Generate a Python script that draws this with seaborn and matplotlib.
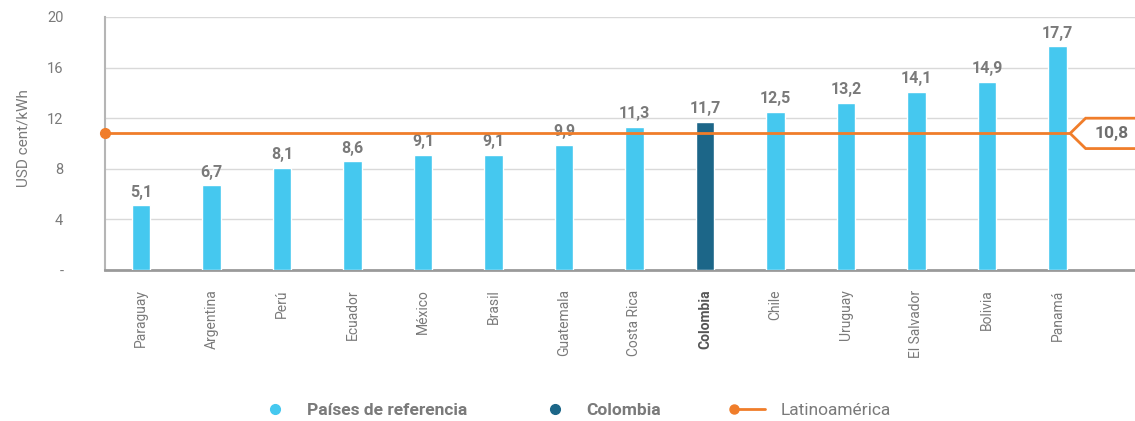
import matplotlib
matplotlib.use("Agg")
import matplotlib.pyplot as plt
import seaborn as sns
import pandas as pd
from matplotlib.patches import Polygon
from matplotlib.lines import Line2D
from matplotlib.legend_handler import HandlerBase

countries = ["Paraguay", "Argentina", "Perú", "Ecuador", "México", "Brasil", "Guatemala",
             "Costa Rica", "Colombia", "Chile", "Uruguay", "El Salvador", "Bolivia", "Panamá"]
values = [5.1, 6.7, 8.1, 8.6, 9.1, 9.1, 9.9, 11.3, 11.7, 12.5, 13.2, 14.1, 14.9, 17.7]
latam_avg = 10.8
yticks = [0, 4, 8, 12, 16, 20]
ytick_labels = ["-", "4", "8", "12", "16", "20"]
legend_labels = ["Países de referencia", "Colombia", "Latinoamérica"]

LIGHT = "#45C8EF"
DARK = "#1C6688"
ORANGE = "#F07D2A"
TEXT = "#7a7a7a"

sns.set_theme(style="white")
plt.rcParams["font.family"] = ["Roboto", "DejaVu Sans"]

df = pd.DataFrame({"country": countries, "value": values})
palette = {c: (DARK if c == "Colombia" else LIGHT) for c in countries}

fig = plt.figure(figsize=(11.35, 4.21), dpi=100)
ax = fig.add_axes([105 / 1135, 151 / 421, 1 - 105 / 1135, 253 / 421])

sns.barplot(data=df, x="country", y="value", hue="country", palette=palette,
            legend=False, width=0.26, saturation=1, ax=ax, zorder=3)

for cont in ax.containers:
    ax.bar_label(cont, labels=[f"{v:.1f}".replace(".", ",") for v in cont.datavalues],
                 padding=4, color=TEXT, fontsize=11.5, fontweight="bold")

ax.set_xlim(-0.51, 14.1)
ax.set_ylim(0, 20)
ax.set_yticks(yticks)
ax.set_yticklabels(ytick_labels)
ax.yaxis.grid(True, color="#d9d9d9", linewidth=1, zorder=0)
ax.set_axisbelow(True)
ax.tick_params(axis="y", length=0, pad=30, labelsize=10.5, labelcolor=TEXT)
ax.tick_params(axis="x", length=0, pad=14, labelsize=10, labelcolor=TEXT)
for lbl in ax.get_xticklabels():
    lbl.set_rotation(90)
    lbl.set_va("top")
    if lbl.get_text() == "Colombia":
        lbl.set_fontweight("bold")
        lbl.set_color("#555555")
ax.set_xlabel("")
ax.set_ylabel("USD cent/kWh", color=TEXT, fontsize=11, labelpad=6)
ax.yaxis.set_label_coords(-0.072, 0.52)

for s in ["top", "right"]:
    ax.spines[s].set_visible(False)
ax.spines["left"].set_color("#b5b5b5")
ax.spines["left"].set_linewidth(1.5)
ax.spines["bottom"].set_color("#9a9a9a")
ax.spines["bottom"].set_linewidth(2)

# Latin America average line
x_tip = 13.18
ax.plot([-0.51, x_tip], [latam_avg, latam_avg], color=ORANGE, linewidth=2, zorder=4,
        solid_capstyle="butt", clip_on=False)
ax.plot([-0.51], [latam_avg], marker="o", color=ORANGE, markersize=7, zorder=5, clip_on=False)

# pentagon label box
poly = Polygon([[x_tip, latam_avg], [x_tip + 0.22, latam_avg + 1.2], [14.3, latam_avg + 1.2],
                [14.3, latam_avg - 1.2], [x_tip + 0.22, latam_avg - 1.2]],
               closed=True, facecolor="white", edgecolor=ORANGE, linewidth=2,
               zorder=6, clip_on=False)
ax.add_patch(poly)
ax.text(13.52, latam_avg, f"{latam_avg:.1f}".replace(".", ","), ha="left", va="center",
        color="#6e6e6e", fontsize=12.5, fontweight="bold", zorder=7)


class LineDotHandler(HandlerBase):
    def create_artists(self, legend, orig_handle, xdescent, ydescent, width, height,
                       fontsize, trans):
        y = height / 2 - ydescent
        line = Line2D([-xdescent, width - xdescent], [y, y], color=ORANGE, linewidth=2,
                      transform=trans)
        dot = Line2D([-xdescent], [y], marker="o", markersize=6.5, color=ORANGE,
                     linestyle="none", transform=trans)
        return [line, dot]


handles = [
    Line2D([], [], linestyle="none", marker="o", markersize=7, color=LIGHT),
    Line2D([], [], linestyle="none", marker="o", markersize=7, color=DARK),
    Line2D([], [], linestyle="-", color=ORANGE),
]
leg = fig.legend(handles, legend_labels, loc="center", bbox_to_anchor=(0.507, 0.025),
                 ncol=3, frameon=False, handlelength=1.8, columnspacing=4.2,
                 handletextpad=0.9, prop={"size": 12.5, "weight": "bold"},
                 handler_map={handles[2]: LineDotHandler()})
for t in leg.get_texts():
    t.set_color(TEXT)
leg.get_texts()[2].set_fontweight("normal")

fig.savefig("out.png", dpi=100)
